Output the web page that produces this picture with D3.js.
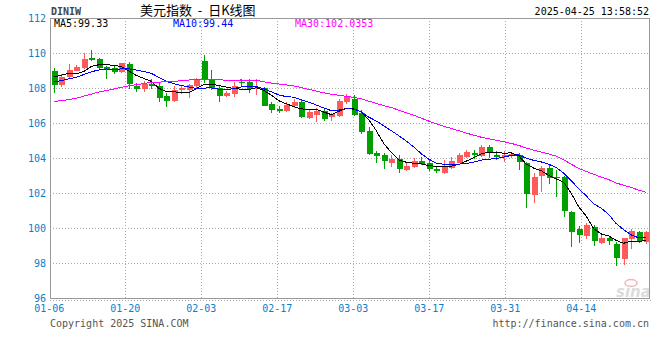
<!DOCTYPE html>
<html>
<head>
<meta charset="utf-8">
<script src="https://cdn.jsdelivr.net/npm/d3@7"></script>
<style>
  body { margin: 0; background: #fff; }
  svg { display: block; }
  .mono { font-family: "DejaVu Sans Mono", monospace; font-size: 10px; }
</style>
</head>
<body>
<div id="chart"></div>
<script>

// daily candles, 2025-01-06 .. 2025-04-25
var dates = [
  "01-06","01-07","01-08","01-09","01-10","01-13","01-14","01-15","01-16","01-17",
  "01-20","01-21","01-22","01-23","01-24","01-27","01-28","01-29","01-30","01-31",
  "02-03","02-04","02-05","02-06","02-07","02-10","02-11","02-12","02-13","02-14",
  "02-17","02-18","02-19","02-20","02-21","02-24","02-25","02-26","02-27","02-28",
  "03-03","03-04","03-05","03-06","03-07","03-10","03-11","03-12","03-13","03-14",
  "03-17","03-18","03-19","03-20","03-21","03-24","03-25","03-26","03-27","03-28",
  "03-31","04-01","04-02","04-03","04-04","04-07","04-08","04-09","04-10","04-11",
  "04-14","04-15","04-16","04-17","04-18","04-21","04-22","04-23","04-24","04-25"
];

var opens = [
  108.99,108.19,108.63,108.99,109.16,109.70,109.66,109.18,109.16,108.93,
  109.37,108.13,107.93,108.23,108.11,107.54,107.27,107.87,107.87,108.11,
  109.54,108.46,107.98,107.56,107.67,108.34,108.34,107.93,107.98,107.09,
  106.80,106.70,106.97,107.22,106.30,106.47,106.70,106.33,106.40,107.20,
  107.38,106.59,105.56,104.30,104.17,103.73,103.92,103.31,103.50,103.83,
  103.73,103.37,103.16,103.45,103.73,104.07,104.30,104.13,104.65,104.20,
  104.05,104.11,104.17,103.70,101.89,102.99,103.45,102.93,102.93,100.93,
  99.94,99.54,100.07,99.16,99.41,99.09,98.23,99.37,99.79,99.18
];

var highs = [
  109.13,108.78,109.37,109.30,110.00,110.17,109.73,109.27,109.27,109.45,
  109.50,108.30,108.40,108.50,108.27,107.70,108.13,108.13,108.25,108.60,
  109.89,109.03,108.10,107.85,108.36,108.50,108.50,108.51,108.05,107.22,
  106.95,107.20,107.35,107.35,106.75,106.85,106.85,106.60,107.35,107.65,
  107.60,106.75,105.75,104.40,104.30,104.20,104.20,103.75,104.00,104.05,
  103.90,103.50,103.90,104.05,104.30,104.45,104.45,104.75,104.75,104.40,
  104.40,104.30,104.30,103.75,103.13,103.56,103.60,103.31,103.00,101.00,
  100.13,100.30,100.15,99.60,99.50,99.20,99.45,99.92,99.85,99.85
];

var lows = [
  107.73,108.05,108.53,108.95,109.07,109.55,109.09,108.53,108.80,108.85,
  107.93,107.75,107.80,107.93,107.18,106.93,107.20,107.64,107.45,108.00,
  108.27,107.90,107.22,107.50,107.47,108.11,107.73,107.60,106.95,106.55,
  106.60,106.65,106.85,106.30,106.25,106.07,106.12,106.12,106.35,107.10,
  106.40,105.40,104.20,103.70,103.37,103.50,103.16,103.25,103.45,103.58,
  103.25,103.15,103.10,103.40,103.70,104.00,103.95,104.05,104.00,103.90,
  103.75,104.00,103.31,101.13,101.45,102.07,102.50,101.79,100.61,98.93,
  99.13,99.40,99.00,99.10,99.05,97.85,97.89,98.78,99.15,99.10
];

var closes = [
  108.19,108.65,109.03,109.20,109.66,109.60,109.16,109.09,108.93,109.41,
  108.25,107.93,108.21,108.11,107.45,107.27,107.87,107.98,108.15,108.53,
  108.48,107.98,107.56,107.73,108.11,108.27,107.93,108.02,106.99,106.74,
  106.69,107.05,107.22,106.33,106.63,106.70,106.23,106.51,107.26,107.54,
  106.46,105.47,104.23,104.13,103.83,103.92,103.37,103.54,103.83,103.66,
  103.38,103.25,103.50,103.85,104.18,104.32,104.20,104.65,104.30,104.05,
  104.20,104.25,103.80,101.95,102.92,103.45,102.87,102.84,100.95,99.80,
  99.60,100.20,99.25,99.45,99.25,98.28,99.42,99.83,99.27,99.80
];

// closes before 01-06, needed for the moving averages at the left edge
var priorCloses = [
  107.50,106.90,107.00,106.10,106.10,105.74,
  106.45,106.35,106.35,105.74,106.00,
  106.17,106.40,106.70,106.95,107.00,
  106.85,106.95,108.00,108.40,107.80,
  108.04,108.26,108.13,108.00,
  108.13,108.49,109.39,108.92
];

var tickLabels = ["01-06","01-20","02-03","02-17","03-03","03-17","03-31","04-14"];
var yTicks = [96, 98, 100, 102, 104, 106, 108, 110, 112];
var maPeriods = [5, 10, 30];
var maColors = ["#000000", "#0000ff", "#ff00ff"];
var maLabels = ["MA5:99.33", "MA10:99.44", "MA30:102.0353"];

/////////////////////////////////////////////////////////////////////

function drawChart() {
  var W = 660, H = 360;
  var plotL = 50, plotR = 649, plotT = 18, plotB = 298;

  var svg = d3.select("#chart").append("svg")
    .attr("width", W)
    .attr("height", H);

  var x = d3.scaleLinear().domain([0, dates.length]).range([50, 650]);
  var gridX = d3.scaleLinear().domain([0, 8]).range([49.3, 657.3]);
  var y = d3.scaleLinear().domain([96, 112]).range([plotB, plotT]);

  var blue = "#0a80cc";

  // header
  svg.append("text").attr("class", "mono")
    .attr("x", 51).attr("y", 15)
    .attr("font-weight", "bold").attr("fill", "#444")
    .text("DINIW");

  svg.append("text")
    .attr("x", 140).attr("y", 15)
    .attr("font-family", "Noto Sans CJK SC, sans-serif")
    .attr("font-size", 13).attr("fill", "#000")
    .style("white-space", "pre")
    .text("美元指数  -  日K线图");

  svg.append("text").attr("class", "mono")
    .attr("x", 649).attr("y", 15)
    .attr("text-anchor", "end").attr("fill", "#000")
    .text("2025-04-25 13:58:52");

  // grid
  var grid = svg.append("g")
    .attr("stroke", "#aaa")
    .attr("stroke-dasharray", "1,2")
    .attr("shape-rendering", "crispEdges");

  grid.selectAll("line.h")
    .data(yTicks.slice(1, -1))
    .enter().append("line")
    .attr("x1", plotL).attr("x2", plotR)
    .attr("y1", d => Math.round(y(d)) + 0.5)
    .attr("y2", d => Math.round(y(d)) + 0.5);

  grid.selectAll("line.v")
    .data(tickLabels.slice(1))
    .enter().append("line")
    .attr("x1", (d, k) => Math.round(gridX(k + 1)) + 0.5)
    .attr("x2", (d, k) => Math.round(gridX(k + 1)) + 0.5)
    .attr("y1", plotT).attr("y2", plotB);

  grid.append("line")
    .attr("x1", plotL).attr("x2", 651)
    .attr("y1", 300.5).attr("y2", 300.5);

  // sina watermark
  svg.append("ellipse")
    .attr("cx", 631).attr("cy", 283).attr("rx", 6).attr("ry", 3.5)
    .attr("fill", "none").attr("stroke", "#f2b5b5").attr("stroke-width", 1.5);
  svg.append("text")
    .attr("x", 616).attr("y", 297)
    .attr("font-family", "DejaVu Sans, sans-serif")
    .attr("font-size", 15).attr("font-weight", "bold").attr("font-style", "italic")
    .attr("fill", "#dcdcdc")
    .text("sina");

  // candles
  var candles = svg.append("g").attr("shape-rendering", "crispEdges");
  var idx = d3.range(dates.length);
  var colorOf = i => closes[i] >= opens[i] ? "#ff5a5a" : "#00a000";

  candles.selectAll("line")
    .data(idx)
    .enter().append("line")
    .attr("x1", i => Math.round(x(i + 0.5)) + 0.5)
    .attr("x2", i => Math.round(x(i + 0.5)) + 0.5)
    .attr("y1", i => y(highs[i]))
    .attr("y2", i => y(lows[i]))
    .attr("stroke", colorOf);

  candles.selectAll("rect")
    .data(idx)
    .enter().append("rect")
    .attr("x", i => Math.round(x(i + 0.5)) - 2.5)
    .attr("width", 6)
    .attr("y", i => y(Math.max(opens[i], closes[i])))
    .attr("height", i => Math.max(1, Math.abs(y(opens[i]) - y(closes[i]))))
    .attr("fill", colorOf);

  // moving averages
  var allCloses = priorCloses.concat(closes);
  function movingAvg(n) {
    return idx.map(function(i) {
      var end = i + priorCloses.length;
      return d3.mean(allCloses.slice(end - n + 1, end + 1));
    });
  }

  var line = d3.line()
    .x((d, i) => x(i + 0.5))
    .y(d => y(d));

  maPeriods.forEach(function(n, k) {
    svg.append("path")
      .attr("d", line(movingAvg(n)))
      .attr("fill", "none")
      .attr("stroke", maColors[k])
      .attr("stroke-width", 1)
      .attr("shape-rendering", "crispEdges");
  });

  // frame
  svg.append("rect")
    .attr("x", plotL + 0.5).attr("y", plotT + 0.5)
    .attr("width", plotR - plotL).attr("height", plotB - plotT)
    .attr("fill", "none").attr("stroke", "#999")
    .attr("shape-rendering", "crispEdges");

  // MA legend
  var maX = [54, 173, 295];
  maLabels.forEach(function(t, k) {
    svg.append("text").attr("class", "mono")
      .attr("x", maX[k]).attr("y", 27)
      .attr("fill", maColors[k])
      .text(t);
  });

  // axis labels
  svg.selectAll("text.ylab")
    .data(yTicks)
    .enter().append("text")
    .attr("class", "mono ylab")
    .attr("x", 46).attr("y", d => y(d) + 4)
    .attr("text-anchor", "end")
    .attr("fill", blue)
    .text(d => d);

  svg.selectAll("text.xlab")
    .data(tickLabels)
    .enter().append("text")
    .attr("class", "mono xlab")
    .attr("x", (d, k) => gridX(k))
    .attr("y", 312)
    .attr("text-anchor", "middle")
    .attr("fill", blue)
    .text(d => d);

  // footer
  svg.append("text").attr("class", "mono")
    .attr("x", 50).attr("y", 327).attr("fill", "#555")
    .text("Copyright 2025 SINA.COM");

  svg.append("text").attr("class", "mono")
    .attr("x", 649).attr("y", 327).attr("text-anchor", "end").attr("fill", "#555")
    .text("http://finance.sina.com.cn");
}

drawChart();

</script>
</body>
</html>
